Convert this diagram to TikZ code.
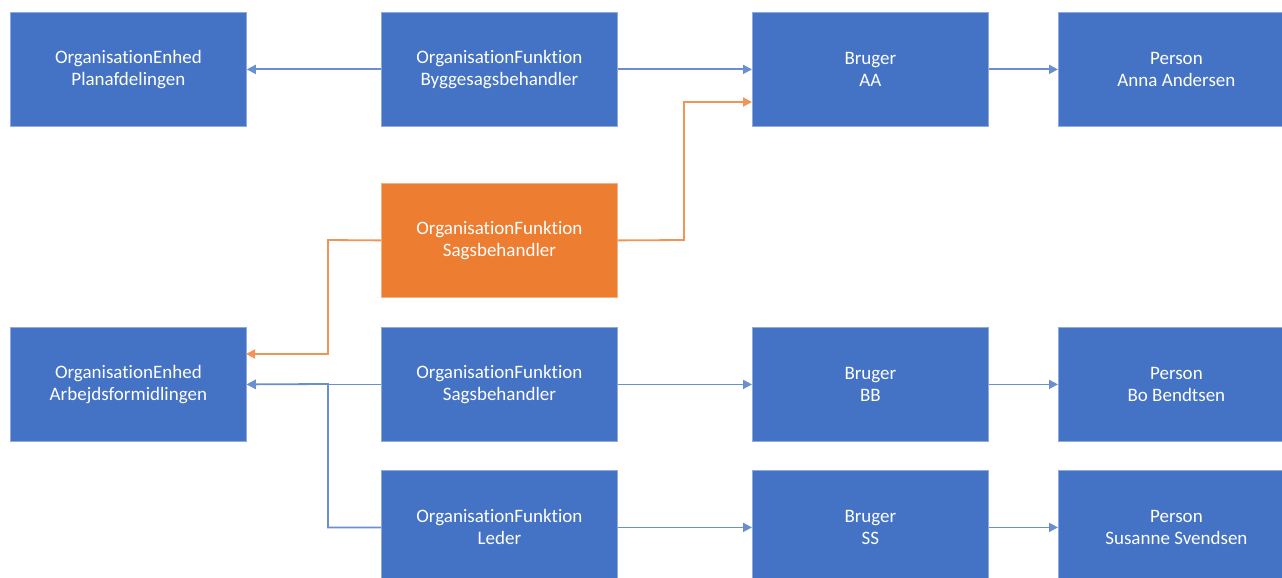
\documentclass[tikz,border=0pt]{standalone}
\usepackage{fontspec}
\setmainfont{Carlito}[Ligatures=NoCommon]
\usetikzlibrary{arrows.meta}
\definecolor{boxblue}{HTML}{4472C4}
\definecolor{boxorange}{HTML}{ED7D31}
\definecolor{lineblue}{HTML}{6A8FD0}
\definecolor{lineorange}{HTML}{F29456}
\definecolor{edgeblue}{HTML}{8FAADC}
\begin{document}
\begin{tikzpicture}[x=1pt,y=-1pt,
  bx/.style={draw=edgeblue,line width=0.8pt,fill=boxblue,text=white,minimum width=236pt,minimum height=114pt,inner sep=0pt,align=center,font=\fontsize{19}{22}\selectfont,anchor=north west},
  ob/.style={bx,draw=boxorange!60!white,fill=boxorange},
  con/.style={draw=lineblue,line width=1.8pt,-{Triangle[length=9pt,width=9pt]}},
  ocon/.style={draw=lineorange,line width=1.8pt,-{Triangle[length=9pt,width=9pt]}}]
\useasboundingbox (0,0) rectangle (1282,578);
\clip (0,0) rectangle (1282,578);
\fill[white] (0,0) rectangle (1282,578);
% row 1
\node[bx] (e1) at (10,12) {OrganisationEnhed\\Planafdelingen};
\node[bx] (f1) at (381,12) {OrganisationFunktion\\Byggesagsbehandler};
\node[bx] (b1) at (752,12) {Bruger\\AA};
\node[bx] (p1) at (1058,12) {Person\\Anna Andersen};
% orange
\node[ob] (fo) at (381,183) {OrganisationFunktion\\Sagsbehandler};
% row 3
\node[bx] (e2) at (10,327) {OrganisationEnhed\\Arbejdsformidlingen};
\node[bx] (f2) at (381,327) {OrganisationFunktion\\Sagsbehandler};
\node[bx] (b2) at (752,327) {Bruger\\BB};
\node[bx] (p2) at (1058,327) {Person\\Bo Bendtsen};
% row 4
\node[bx] (f3) at (381,470) {OrganisationFunktion\\Leder};
\node[bx] (b3) at (752,470) {Bruger\\SS};
\node[bx] (p3) at (1058,470) {Person\\Susanne Svendsen};
% connectors
\draw[con] (f1.west) -- (e1.east);
\draw[con] (f1.east) -- (b1.west);
\draw[con] (b1.east) -- (p1.west);
\draw[con] (f2.west) -- (e2.east);
\draw[con] (f2.east) -- (b2.west);
\draw[con] (b2.east) -- (p2.west);
\draw[con] (f3.east) -- (b3.west);
\draw[con] (b3.east) -- (p3.west);
\coordinate (jl) at (328,384);
\draw[con] (f3.west) -| (jl) -- (e2.east);
\coordinate (o1) at (684,240);
\coordinate (o2) at (752,102);
\draw[ocon] (fo.east) -- (o1) |- (o2);
\coordinate (o3) at (328,240);
\coordinate (o4) at (246,354);
\draw[ocon] (fo.west) -- (o3) |- (o4);
\end{tikzpicture}
\end{document}
